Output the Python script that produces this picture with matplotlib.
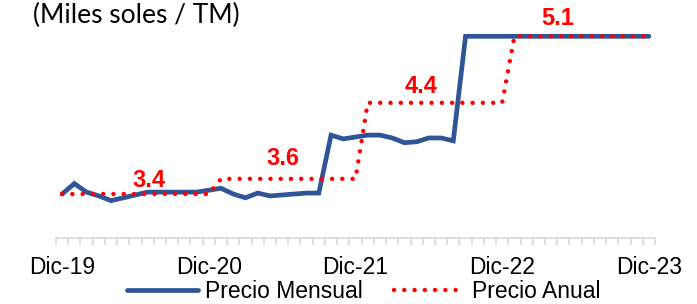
import numpy as np
import matplotlib
matplotlib.use("Agg")
import matplotlib.pyplot as plt

# Precio mensual (miles de soles / TM), Dic-19 .. Dic-23
mensual = [3.44, 3.55, 3.46, 3.42, 3.37, 3.40, 3.43, 3.46, 3.46, 3.46,
           3.46, 3.46, 3.48, 3.50, 3.44, 3.40, 3.45, 3.42, 3.43, 3.44,
           3.45, 3.45, 4.06, 4.02, 4.04, 4.06, 4.06, 4.03, 3.98, 3.99,
           4.03, 4.03, 4.00, 5.10, 5.10, 5.10, 5.10, 5.10, 5.10, 5.10,
           5.10, 5.10, 5.10, 5.10, 5.10, 5.10, 5.10, 5.10, 5.10]

# Precio anual por año
anual_valores = [3.44, 3.60, 4.40, 5.10]
anual_etiquetas = ["3.4", "3.6", "4.4", "5.1"]
# meses (índice) en que cada precio anual está vigente
anual_tramos = [(0, 12), (13, 24), (25, 36), (37, 48)]

tick_labels = ["Dic-19", "Dic-20", "Dic-21", "Dic-22", "Dic-23"]

anual = []
for (a, b), v in zip(anual_tramos, anual_valores):
    anual.extend([v] * (b - a + 1))

x = np.arange(len(mensual))

fig = plt.figure(figsize=(6.97, 3.04), dpi=100)
ax = fig.add_axes([56 / 697, 1 - 238 / 304, 599 / 697, (238 - 26.8) / 304])

blue = "#2f5597"
ax.plot(x, mensual, color=blue, lw=3.4, solid_joinstyle="miter",
        solid_capstyle="round", label="Precio Mensual", zorder=2)
ax.plot(x, anual, color="red", lw=3.2, linestyle=(0, (0.01, 2.3)),
        dash_capstyle="round", label="Precio Anual", zorder=3)

# etiquetas de precio anual
lab_x = [7.1, 18.1, 29.35, 40.56]
lab_dy = [0.137, 0.214, 0.172, 0.187]
for xi, v, dy, t in zip(lab_x, anual_valores, lab_dy, anual_etiquetas):
    ax.text(xi, v + dy, t, color="red", fontsize=17, fontweight="bold",
            family="Liberation Sans", ha="center", va="center", clip_on=False)

ax.set_xlim(-0.5, 48.5)
ax.set_ylim(2.977, 5.2)
ax.set_yticks([])
for s in ["left", "right", "top"]:
    ax.spines[s].set_visible(False)
ax.spines["bottom"].set_color("#d9d9d9")
ax.spines["bottom"].set_linewidth(1.2)

ax.set_xticks(np.arange(0, 49, 12))
ax.set_xticklabels(tick_labels, fontsize=16.5, family="Liberation Sans")
ax.set_xticks(np.arange(-0.5, 49, 1), minor=True)
ax.tick_params(axis="x", which="major", length=0, pad=13)
ax.tick_params(axis="x", which="minor", length=5, color="#d9d9d9", width=1.2)

fig.text(33 / 697, 1 - 15.5 / 304, "(Miles soles / TM)", fontsize=19,
         family="Lato", ha="left", va="center")

fig.legend(loc="center", bbox_to_anchor=(363.5 / 697, 1 - 292 / 304),
           ncol=2, frameon=False, prop={"family": "Liberation Sans", "size": 16.5},
           handlelength=3.1, handletextpad=0.3, columnspacing=1.35,
           borderaxespad=0, borderpad=0)

fig.savefig("out.png", dpi=100)
